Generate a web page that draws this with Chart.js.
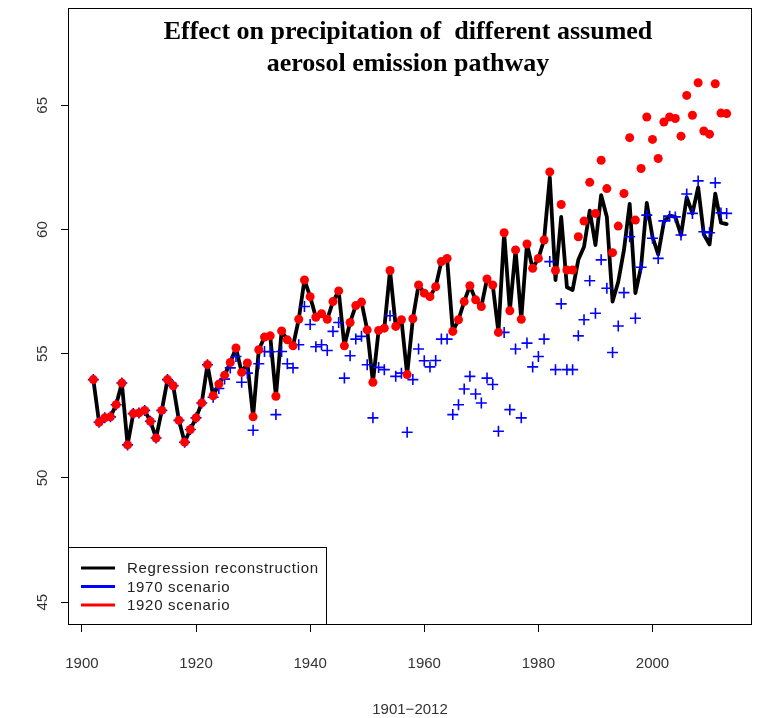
<!DOCTYPE html>
<html>
<head>
<meta charset="utf-8">
<title>Effect on precipitation of different assumed aerosol emission pathway</title>
<script src="https://cdn.jsdelivr.net/npm/chart.js@4.4.1/dist/chart.umd.min.js"></script>
<style>
  html, body { margin: 0; padding: 0; background: #fff; }
  #chart { display: block; }
</style>
</head>
<body>
<canvas id="chart" width="761" height="718"></canvas>
<script>
// annual series, 1902..2013
const years = Array.from({ length: 112 }, (_, i) => 1902 + i);

const reconstruction = [
  53.96, 52.24, 52.42, 52.46, 52.95, 53.82, 51.33, 52.59, 52.62, 52.72,
  52.28, 51.61, 52.72, 53.96, 53.71, 52.32, 51.44, 51.95, 52.42, 53.02,
  54.56, 53.31, 53.78, 54.13, 54.65, 55.23, 54.25, 54.63, 52.46, 55.16,
  55.67, 55.72, 53.29, 55.92, 55.56, 55.32, 56.39, 57.97, 57.30, 56.47,
  56.61, 56.39, 57.10, 57.53, 55.32, 56.26, 56.94, 57.08, 55.96, 53.85,
  55.94, 56.03, 58.35, 56.10, 56.37, 54.16, 56.41, 57.77, 57.44, 57.30,
  57.70, 58.71, 58.84, 55.90, 56.37, 57.10, 57.74, 57.17, 56.90, 58.01,
  57.77, 55.86, 59.87, 56.73, 59.18, 56.39, 59.42, 58.44, 58.84, 59.58,
  62.10, 57.97, 60.51, 57.68, 57.57, 58.78, 59.31, 60.76, 59.38, 61.39,
  60.51, 57.10, 57.90, 59.18, 61.03, 57.44, 58.50, 61.07, 59.70, 59.00,
  60.31, 60.56, 60.51, 59.78, 61.30, 60.65, 61.70, 59.80, 59.40, 61.45,
  60.28, 60.22
];

const scenario1970 = [
  53.96, 52.24, 52.42, 52.46, 52.95, 53.82, 51.33, 52.59, 52.62, 52.72,
  52.28, 51.61, 52.72, 53.96, 53.71, 52.32, 51.44, 51.95, 52.42, 53.02,
  54.56, 53.25, 53.60, 53.98, 54.43, 54.89, 53.85, 54.22, 51.92, 54.60,
  55.09, 55.08, 52.55, 55.09, 54.60, 54.43, 55.36, 56.90, 56.18, 55.28,
  55.36, 55.13, 55.90, 56.26, 54.02, 54.92, 55.59, 55.70, 54.56, 52.42,
  54.45, 54.36, 56.53, 54.09, 54.22, 51.84, 53.96, 55.19, 54.72, 54.47,
  54.73, 55.59, 55.59, 52.55, 52.95, 53.58, 54.09, 53.38, 53.02, 54.02,
  53.76, 51.88, 55.86, 52.75, 55.19, 52.42, 55.43, 54.47, 54.89, 55.59,
  58.71, 54.36, 57.01, 54.36, 54.36, 55.72, 56.37, 57.94, 56.63, 58.78,
  57.64, 55.05, 56.12, 57.46, 59.71, 56.43, 58.48, 60.58, 59.65, 58.84,
  60.35, 60.54, 60.51, 59.78, 61.43, 60.65, 61.96, 59.91, 59.87, 61.88,
  60.67, 60.65
];

const scenario1920 = [
  53.96, 52.24, 52.42, 52.46, 52.95, 53.82, 51.33, 52.59, 52.62, 52.72,
  52.28, 51.61, 52.72, 53.96, 53.71, 52.32, 51.44, 51.95, 52.42, 53.02,
  54.56, 53.31, 53.78, 54.13, 54.65, 55.23, 54.25, 54.63, 52.46, 55.16,
  55.67, 55.72, 53.29, 55.92, 55.56, 55.32, 56.39, 57.97, 57.30, 56.47,
  56.61, 56.39, 57.10, 57.53, 55.32, 56.26, 56.94, 57.08, 55.96, 53.85,
  55.94, 56.03, 58.35, 56.10, 56.37, 54.16, 56.41, 57.77, 57.44, 57.30,
  57.70, 58.71, 58.84, 55.90, 56.37, 57.10, 57.74, 57.17, 56.90, 58.01,
  57.77, 55.86, 59.87, 56.73, 59.18, 56.39, 59.42, 58.44, 58.84, 59.58,
  62.32, 58.35, 61.01, 58.37, 58.37, 59.71, 60.34, 61.90, 60.65, 62.79,
  61.65, 59.07, 60.14, 61.45, 63.70, 60.38, 62.46, 64.53, 63.63, 62.86,
  64.33, 64.53, 64.47, 63.76, 65.40, 64.60, 65.91, 63.97, 63.84, 65.87,
  64.69, 64.67
];

const xTicks = [1900, 1920, 1940, 1960, 1980, 2000];
const yTicks = [45, 50, 55, 60, 65];

const titleLines = ['Effect on precipitation of  different assumed', 'aerosol emission pathway'];
const xTitle = '1901\u22122012';

const legendItems = [
  { label: 'Regression reconstruction', color: '#000000' },
  { label: '1970 scenario', color: '#0000ff' },
  { label: '1920 scenario', color: '#ff0000' }
];

const SANS = '"Liberation Sans", Arial, sans-serif';
const SERIF = '"Liberation Serif", "Times New Roman", serif';

const toPoints = (values) => values.map((v, i) => ({ x: years[i], y: v }));

// box, title, rotated y labels, x title and the legend, R style
const decorations = {
  id: 'decorations',
  afterDatasetsDraw(chart) {
    const { ctx, chartArea: a, scales } = chart;
    ctx.save();

    ctx.strokeStyle = '#000';
    ctx.lineWidth = 1;
    ctx.strokeRect(a.left + 0.5, a.top + 0.5, a.right - a.left - 1, a.bottom - a.top - 1);

    // title sits inside the plot region
    ctx.fillStyle = '#000';
    ctx.font = 'bold 26px ' + SERIF;
    ctx.textAlign = 'center';
    ctx.textBaseline = 'middle';
    const cx = (a.left + a.right) / 2 - 2;
    ctx.fillText(titleLines[0], cx, 32);
    ctx.fillText(titleLines[1], cx, 64);

    // y tick labels, rotated like R's las = 0
    ctx.fillStyle = '#333';
    ctx.font = '15px ' + SANS;
    yTicks.forEach(v => {
      const py = scales.y.getPixelForValue(v);
      ctx.save();
      ctx.translate(43, py);
      ctx.rotate(-Math.PI / 2);
      ctx.fillText(String(v), 0, 0);
      ctx.restore();
    });

    // x axis title
    ctx.fillText(xTitle, cx + 2, 710);

    // legend in the bottom left corner
    const lx = a.left, lw = 258, lh = 78;
    const ly = a.bottom - lh;
    ctx.fillStyle = '#fff';
    ctx.fillRect(lx, ly, lw, lh);
    ctx.strokeStyle = '#000';
    ctx.strokeRect(lx + 0.5, ly + 0.5, lw, lh - 1);
    ctx.font = '15px ' + SANS;
    ctx.letterSpacing = '0.7px';
    ctx.textAlign = 'left';
    legendItems.forEach((item, i) => {
      const rowY = ly + 21 + i * 18.5;
      ctx.strokeStyle = item.color;
      ctx.lineWidth = 3;
      ctx.beginPath();
      ctx.moveTo(lx + 13, rowY);
      ctx.lineTo(lx + 47, rowY);
      ctx.stroke();
      ctx.fillStyle = '#222';
      ctx.fillText(item.label, lx + 59, rowY + 1);
    });

    ctx.restore();
  }
};

new Chart(document.getElementById('chart'), {
  type: 'scatter',
  data: {
    datasets: [
      {
        label: 'Regression reconstruction',
        data: toPoints(reconstruction),
        showLine: true,
        borderColor: '#000',
        borderWidth: 3.8,
        borderJoinStyle: 'round',
        borderCapStyle: 'round',
        pointRadius: 0,
        tension: 0,
        order: 3
      },
      {
        label: '1970 scenario',
        data: toPoints(scenario1970),
        pointStyle: 'cross',
        pointRadius: 5.5,
        pointBorderWidth: 1.6,
        pointBorderColor: '#0000ff',
        borderColor: '#0000ff',
        order: 2
      },
      {
        label: '1920 scenario',
        data: toPoints(scenario1920),
        pointStyle: 'circle',
        pointRadius: 4.5,
        pointBorderWidth: 0,
        pointBackgroundColor: '#ff0000',
        backgroundColor: '#ff0000',
        order: 1
      }
    ]
  },
  options: {
    responsive: false,
    animation: false,
    events: [],
    layout: { padding: { top: 8, right: 9, left: 0, bottom: 0 } },
    plugins: {
      legend: { display: false },
      tooltip: { enabled: false }
    },
    scales: {
      x: {
        type: 'linear',
        min: 1897.56,
        max: 2017.44,
        afterBuildTicks: s => { s.ticks = xTicks.map(v => ({ value: v })); },
        afterFit: s => { s.height = 93; },
        border: { display: false },
        grid: { drawOnChartArea: false, tickLength: 7, color: '#000', tickColor: '#000' },
        ticks: {
          color: '#333',
          font: { family: SANS, size: 15 },
          padding: 23,
          maxRotation: 0,
          callback: v => String(v)
        }
      },
      y: {
        type: 'linear',
        min: 44.08,
        max: 68.92,
        afterBuildTicks: s => { s.ticks = yTicks.map(v => ({ value: v })); },
        afterFit: s => { s.width = 68; },
        border: { display: false },
        grid: { drawOnChartArea: false, tickLength: 7, color: '#000', tickColor: '#000' },
        ticks: { display: false }
      }
    }
  },
  plugins: [decorations]
});
</script>
</body>
</html>
